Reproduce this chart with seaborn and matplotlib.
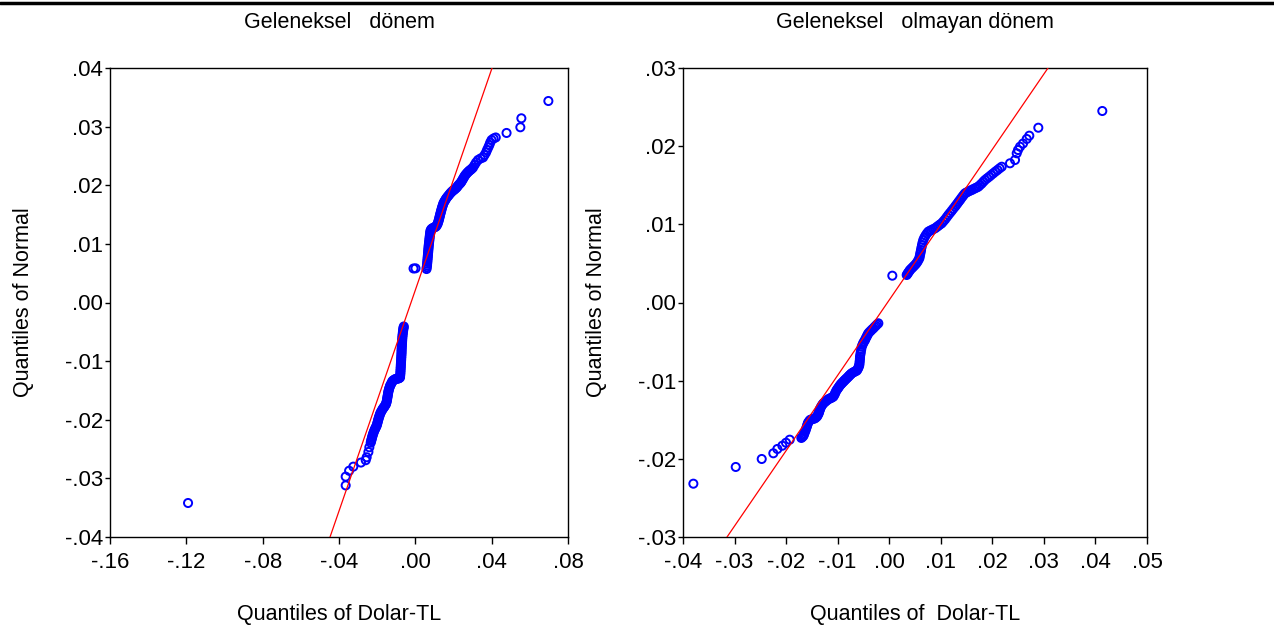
import matplotlib
matplotlib.use("Agg")
import matplotlib.pyplot as plt
import matplotlib.lines as mlines
import seaborn as sns
import pandas as pd

# Geleneksel dönem: (Dolar-TL quantile, normal quantile)
trad_x = [
    -0.1191,
    -0.0365, -0.0365, -0.0347, -0.0325, -0.0285, -0.0260, -0.0255, -0.0246, -0.0241,
    -0.02338, -0.02296, -0.02254, -0.02206, -0.02149, -0.02086, -0.02023, -0.01981,
    -0.01939, -0.01892, -0.01840, -0.01771, -0.01693, -0.01614, -0.01536, -0.01494,
    -0.01468, -0.01441, -0.01415, -0.01378, -0.01326, -0.01258, -0.01195, -0.01090,
    -0.00985, -0.00881, -0.00802, -0.00786, -0.00776, -0.00765, -0.00755, -0.00744,
    -0.00734, -0.00723, -0.00718, -0.00708, -0.00697, -0.00687, -0.00671, -0.00650,
    -0.00629, -0.00603,
    -0.00094, 0.00010,
    0.00587, 0.00613, 0.00629, 0.00645, 0.00660, 0.00676, 0.00692, 0.00708, 0.00729,
    0.00749, 0.00770, 0.00797, 0.00875, 0.00980, 0.01085, 0.01164, 0.01216, 0.01258,
    0.01295, 0.01336, 0.01378, 0.01426, 0.01478, 0.01557, 0.01635, 0.01740, 0.01845,
    0.01950, 0.02055, 0.02170, 0.02264, 0.02369, 0.02448, 0.02526, 0.02605, 0.02710,
    0.02814, 0.02919, 0.03024, 0.03103, 0.03181, 0.03286, 0.03417, 0.03548, 0.03627,
    0.03705, 0.03758, 0.03821, 0.03878, 0.03926, 0.03994, 0.04099, 0.04214,
    0.04780, 0.05503, 0.05556, 0.06971,
]
trad_y = [
    -0.0342,
    -0.0312, -0.0297, -0.0287, -0.0280, -0.0273, -0.0269, -0.0264, -0.0255, -0.0247,
    -0.02392, -0.02337, -0.02286, -0.02235, -0.02184, -0.02141, -0.02098, -0.02047,
    -0.01996, -0.01945, -0.01894, -0.01851, -0.01808, -0.01774, -0.01732, -0.01680,
    -0.01629, -0.01578, -0.01527, -0.01476, -0.01424, -0.01382, -0.01339, -0.01314,
    -0.01302, -0.01296, -0.01279, -0.01220, -0.01160, -0.01100, -0.01041, -0.00981,
    -0.00921, -0.00861, -0.00802, -0.00742, -0.00682, -0.00623, -0.00563, -0.00503,
    -0.00452, -0.00409,
    0.00580, 0.00583,
    0.00571, 0.00631, 0.00691, 0.00751, 0.00810, 0.00870, 0.00930, 0.00989, 0.01049,
    0.01109, 0.01169, 0.01228, 0.01262, 0.01279, 0.01296, 0.01339, 0.01390, 0.01441,
    0.01493, 0.01544, 0.01595, 0.01646, 0.01697, 0.01740, 0.01783, 0.01825, 0.01868,
    0.01902, 0.01928, 0.01962, 0.02004, 0.02039, 0.02081, 0.02124, 0.02167, 0.02209,
    0.02243, 0.02269, 0.02303, 0.02346, 0.02388, 0.02431, 0.02457, 0.02474, 0.02516,
    0.02559, 0.02601, 0.02644, 0.02687, 0.02729, 0.02772, 0.02798, 0.02815,
    0.02892, 0.02989, 0.03142, 0.03437,
]
# extra readings inside the two solid bands of the left panel
trad_dense_x = [
    -0.02317, -0.02275, -0.02233, -0.02180, -0.02117, -0.02055, -0.02002, -0.01960,
    -0.01918, -0.01866, -0.01808, -0.01735, -0.01656, -0.01578, -0.01515, -0.01483,
    -0.01457, -0.01431, -0.01399, -0.01352, -0.01295, -0.01226, -0.01143, -0.01038,
    -0.00933, -0.00839, -0.00797, -0.00781, -0.00770, -0.00760, -0.00749, -0.00739,
    -0.00729, -0.00721, -0.00713, -0.00702, -0.00692, -0.00679, -0.00660, -0.00639,
    -0.00618,
    0.00597, 0.00618, 0.00634, 0.00650, 0.00666, 0.00681, 0.00697, 0.00718, 0.00739,
    0.00760, 0.00781, 0.00833, 0.00928, 0.01032, 0.01127, 0.01190, 0.01237, 0.01274,
    0.01316, 0.01357, 0.01399, 0.01452, 0.01515, 0.01593, 0.01688, 0.01792, 0.01897,
    0.02002, 0.02112, 0.02217, 0.02317, 0.02411, 0.02490, 0.02563, 0.02657, 0.02762,
    0.02867, 0.02972,
]
trad_dense_y = [
    -0.02363, -0.02311, -0.02260, -0.02209, -0.02161, -0.02119, -0.02073, -0.02021,
    -0.01970, -0.01919, -0.01871, -0.01829, -0.01791, -0.01752, -0.01706, -0.01655,
    -0.01604, -0.01552, -0.01501, -0.01450, -0.01402, -0.01360, -0.01326, -0.01305,
    -0.01298, -0.01288, -0.01249, -0.01189, -0.01129, -0.01070, -0.01010, -0.00950,
    -0.00890, -0.00831, -0.00771, -0.00711, -0.00652, -0.00592, -0.00532, -0.00478,
    -0.00430,
    0.00602, 0.00662, 0.00722, 0.00781, 0.00841, 0.00901, 0.00960, 0.01020, 0.01080,
    0.01140, 0.01199, 0.01249, 0.01271, 0.01288, 0.01317, 0.01365, 0.01416, 0.01467,
    0.01518, 0.01569, 0.01621, 0.01672, 0.01720, 0.01762, 0.01805, 0.01847, 0.01885,
    0.01916, 0.01945, 0.01984, 0.02022, 0.02059, 0.02103, 0.02146, 0.02189, 0.02226,
    0.02257, 0.02286,
]
trad_line_x = [-0.0447, 0.0402]
trad_line_y = [-0.04, 0.04]

# Geleneksel olmayan dönem
modern_x = [
    -0.03799, -0.02977, -0.02473, -0.02248, -0.02170, -0.02073, -0.02002, -0.01930,
    -0.01705, -0.01666, -0.01647, -0.01619, -0.01594, -0.01575, -0.01536, -0.01488,
    -0.01439, -0.01400, -0.01375, -0.01358, -0.01342, -0.01313, -0.01278, -0.01235,
    -0.01181, -0.01129, -0.01084, -0.01051, -0.01018, -0.00983, -0.00950, -0.00921,
    -0.00886, -0.00857, -0.00824, -0.00789, -0.00760, -0.00727, -0.00683, -0.00630,
    -0.00601, -0.00580, -0.00572, -0.00566, -0.00551, -0.00533, -0.00504, -0.00469,
    -0.00436, -0.00405, -0.00357, -0.00308, -0.00260, -0.00211,
    0.00060,
    0.00339, 0.00370, 0.00403, 0.00452, 0.00500, 0.00545, 0.00584, 0.00601, 0.00617,
    0.00636, 0.00661, 0.00704, 0.00758, 0.00820, 0.00888, 0.00952, 0.01018, 0.01082,
    0.01146, 0.01212, 0.01276, 0.01325, 0.01373, 0.01422, 0.01470, 0.01534, 0.01600,
    0.01664, 0.01728, 0.01794, 0.01858, 0.01939, 0.02019, 0.02100, 0.02182, 0.02343,
    0.02440, 0.02473, 0.02498, 0.02537, 0.02595, 0.02667, 0.02717, 0.02892, 0.04133,
]
modern_y = [
    -0.02318, -0.02104, -0.02002, -0.01929, -0.01874, -0.01832, -0.01794, -0.01755,
    -0.01733, -0.01708, -0.01673, -0.01631, -0.01580, -0.01538, -0.01503, -0.01490,
    -0.01481, -0.01458, -0.01426, -0.01394, -0.01362, -0.01324, -0.01290, -0.01266,
    -0.01238, -0.01222, -0.01205, -0.01164, -0.01119, -0.01087, -0.01055, -0.01034,
    -0.01011, -0.00991, -0.00970, -0.00947, -0.00927, -0.00906, -0.00889, -0.00872,
    -0.00838, -0.00800, -0.00748, -0.00693, -0.00633, -0.00565, -0.00518, -0.00480,
    -0.00435, -0.00394, -0.00362, -0.00330, -0.00298, -0.00266,
    0.00343,
    0.00352, 0.00384, 0.00416, 0.00448, 0.00480, 0.00518, 0.00565, 0.00620, 0.00672,
    0.00736, 0.00800, 0.00857, 0.00906, 0.00927, 0.00949, 0.00981, 0.01013, 0.01062,
    0.01119, 0.01173, 0.01226, 0.01269, 0.01311, 0.01356, 0.01397, 0.01420, 0.01439,
    0.01461, 0.01481, 0.01522, 0.01567, 0.01609, 0.01653, 0.01695, 0.01737, 0.01781,
    0.01823, 0.01909, 0.01951, 0.01993, 0.02034, 0.02092, 0.02134, 0.02236, 0.02450,
]
# extra readings inside the two solid bands of the right panel
modern_dense_x = [
    -0.01685, -0.01656, -0.01633, -0.01608, -0.01585, -0.01555, -0.01513, -0.01464,
    -0.01420, -0.01387, -0.01365, -0.01350, -0.01329, -0.01296, -0.01257, -0.01208,
    -0.01156, -0.01107, -0.01067, -0.01036, -0.01001, -0.00968, -0.00935, -0.00904,
    -0.00873, -0.00842, -0.00807, -0.00776, -0.00745, -0.00706, -0.00657, -0.00615,
    -0.00590, -0.00576, -0.00568, -0.00559, -0.00543, -0.00518, -0.00487, -0.00454,
    -0.00421, -0.00382, -0.00334, -0.00285, -0.00237,
    0.00355, 0.00388, 0.00427, 0.00475, 0.00524, 0.00564, 0.00593, 0.00609, 0.00626,
    0.00648, 0.00681, 0.00731, 0.00789, 0.00853, 0.00921, 0.00985, 0.01049, 0.01115,
    0.01179, 0.01243, 0.01299, 0.01348, 0.01396, 0.01445, 0.01501, 0.01567, 0.01631,
    0.01695, 0.01761, 0.01825, 0.01899, 0.01978, 0.02060, 0.02141,
]
modern_dense_y = [
    -0.01721, -0.01691, -0.01653, -0.01605, -0.01558, -0.01520, -0.01497, -0.01487,
    -0.01470, -0.01443, -0.01411, -0.01378, -0.01343, -0.01306, -0.01278, -0.01252,
    -0.01229, -0.01213, -0.01185, -0.01141, -0.01103, -0.01071, -0.01044, -0.01022,
    -0.01000, -0.00980, -0.00958, -0.00936, -0.00916, -0.00897, -0.00880, -0.00856,
    -0.00819, -0.00774, -0.00720, -0.00663, -0.00599, -0.00541, -0.00499, -0.00457,
    -0.00414, -0.00377, -0.00345, -0.00313, -0.00281,
    0.00368, 0.00400, 0.00432, 0.00464, 0.00499, 0.00541, 0.00592, 0.00646, 0.00704,
    0.00768, 0.00829, 0.00883, 0.00917, 0.00939, 0.00966, 0.00998, 0.01037, 0.01091,
    0.01146, 0.01200, 0.01247, 0.01291, 0.01334, 0.01376, 0.01408, 0.01430, 0.01451,
    0.01471, 0.01502, 0.01545, 0.01589, 0.01631, 0.01675, 0.01717,
]
modern_line_x = [-0.03146, 0.03080]
modern_line_y = [-0.03, 0.03]

titles = ["Geleneksel   dönem", "Geleneksel   olmayan dönem"]
xlabels = ["Quantiles of Dolar-TL", "Quantiles of  Dolar-TL"]
ylabel = "Quantiles of Normal"

trad_xticks = [-0.16, -0.12, -0.08, -0.04, 0.00, 0.04, 0.08]
trad_xticklabels = ["-.16", "-.12", "-.08", "-.04", ".00", ".04", ".08"]
trad_yticks = [-0.04, -0.03, -0.02, -0.01, 0.00, 0.01, 0.02, 0.03, 0.04]
trad_yticklabels = ["-.04", "-.03", "-.02", "-.01", ".00", ".01", ".02", ".03", ".04"]

modern_xticks = [-0.04, -0.03, -0.02, -0.01, 0.00, 0.01, 0.02, 0.03, 0.04, 0.05]
modern_xticklabels = ["-.04", "-.03", "-.02", "-.01", ".00", ".01", ".02", ".03", ".04", ".05"]
modern_yticks = [-0.03, -0.02, -0.01, 0.00, 0.01, 0.02, 0.03]
modern_yticklabels = ["-.03", "-.02", "-.01", ".00", ".01", ".02", ".03"]

sns.set_theme(style="ticks")
plt.rcParams["font.family"] = ["Liberation Sans", "DejaVu Sans"]
FS = 15.5
TICK_FS = 16

fig = plt.figure(figsize=(12.74, 6.29), dpi=100)
ax1 = fig.add_axes([110 / 1274, 92 / 629, 458 / 1274, 469 / 629])
ax2 = fig.add_axes([683 / 1274, 92 / 629, 464 / 1274, 469 / 629])

panels = [
    (ax1, trad_x + trad_dense_x, trad_y + trad_dense_y, trad_line_x, trad_line_y,
     (-0.16, 0.08), (-0.04, 0.04),
     trad_xticks, trad_xticklabels, trad_yticks, trad_yticklabels),
    (ax2, modern_x + modern_dense_x, modern_y + modern_dense_y, modern_line_x, modern_line_y,
     (-0.04, 0.05), (-0.03, 0.03),
     modern_xticks, modern_xticklabels, modern_yticks, modern_yticklabels),
]

for i, (ax, qx, qy, lx, ly, xlim, ylim, xt, xtl, yt, ytl) in enumerate(panels):
    df = pd.DataFrame({"x": qx, "y": qy})
    sns.scatterplot(data=df, x="x", y="y", ax=ax, marker="o", s=34,
                    facecolors="none", edgecolor="#0000ff", linewidth=1.4, zorder=2)
    # extend the fitted line to the axis box, then clip
    sl = (ly[1] - ly[0]) / (lx[1] - lx[0])
    ext_x = [lx[0] - 0.05, lx[1] + 0.05]
    ext_y = [ly[0] - 0.05 * sl, ly[1] + 0.05 * sl]
    sns.lineplot(x=ext_x, y=ext_y, ax=ax, color="red", linewidth=0.9, zorder=3)
    ax.set_xlim(*xlim)
    ax.set_ylim(*ylim)
    ax.set_xticks(xt)
    ax.set_xticklabels(xtl)
    ax.set_yticks(yt)
    ax.set_yticklabels(ytl)
    ax.tick_params(axis="both", labelsize=TICK_FS, colors="black", width=1, direction="out")
    ax.tick_params(axis="x", length=5, pad=6)
    ax.tick_params(axis="y", length=3.5, pad=1.5)
    for sp in ax.spines.values():
        sp.set_visible(True)
        sp.set_color("black")
        sp.set_linewidth(1)
    ax.set_xlabel(xlabels[i], fontsize=FS, labelpad=22, color="black")
    ax.set_ylabel(ylabel, fontsize=FS, labelpad=22, color="black")
    ax.set_title(titles[i], fontsize=FS, pad=29, color="black")

fig.add_artist(mlines.Line2D([0, 1], [1 - 3 / 629, 1 - 3 / 629], color="black",
                             linewidth=2.5, transform=fig.transFigure))

fig.savefig("out.png", dpi=100)
